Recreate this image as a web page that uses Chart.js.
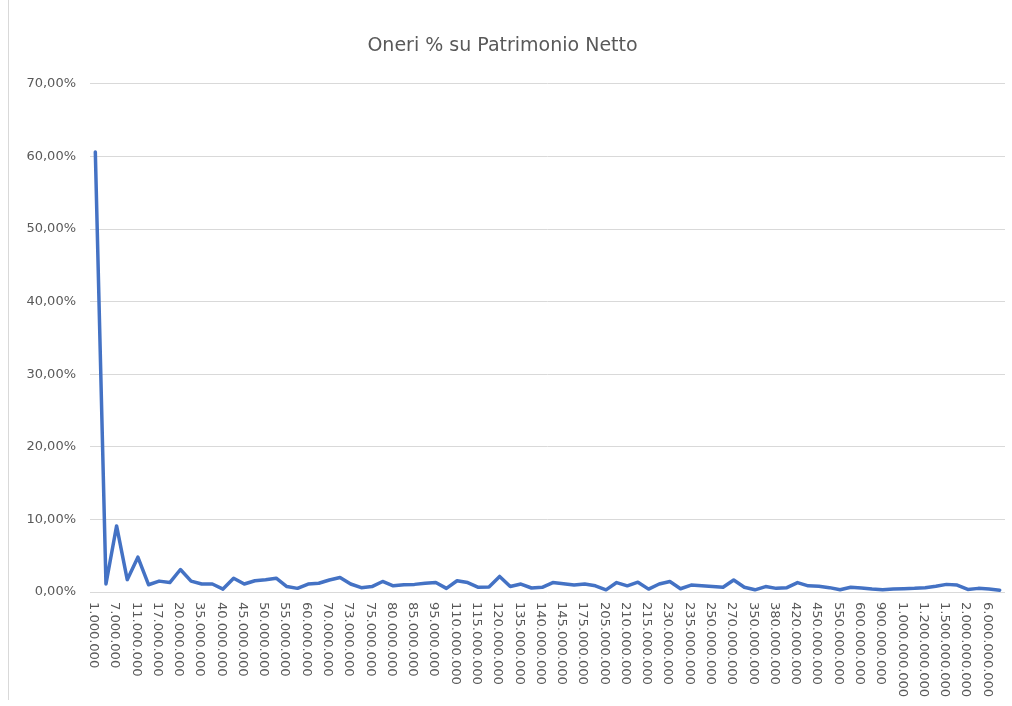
<!DOCTYPE html>
<html>
<head>
<meta charset="utf-8">
<script src="https://cdn.jsdelivr.net/npm/chart.js@4/dist/chart.umd.min.js"></script>
<style>
    html, body { margin: 0; padding: 0; background: #ffffff; }
    #wrap { position: relative; width: 1012px; height: 706px; }
    #frame {
        position: absolute; left: 8px; top: 0; width: 0; height: 700px;
        border-left: 1px solid #d9d9d9; pointer-events: none;
    }
</style>
</head>
<body>
<div id="wrap">
    <canvas id="costChart" width="1012" height="706"></canvas>
    <div id="frame"></div>
</div>
<script>
// categories (patrimonio netto), only every other one is printed on the axis
const categories = [
    "1.000.000", "5.000.000", "7.000.000", "10.000.000", "11.000.000", "15.000.000",
    "17.000.000", "18.000.000", "20.000.000", "30.000.000", "35.000.000", "38.000.000",
    "40.000.000", "42.000.000", "45.000.000", "48.000.000", "50.000.000", "52.000.000",
    "55.000.000", "58.000.000", "60.000.000", "65.000.000", "70.000.000", "72.000.000",
    "73.000.000", "74.000.000", "75.000.000", "78.000.000", "80.000.000", "82.000.000",
    "85.000.000", "90.000.000", "95.000.000", "100.000.000", "110.000.000", "112.000.000",
    "115.000.000", "118.000.000", "120.000.000", "130.000.000", "135.000.000", "138.000.000",
    "140.000.000", "142.000.000", "145.000.000", "150.000.000", "175.000.000", "200.000.000",
    "205.000.000", "208.000.000", "210.000.000", "212.000.000", "215.000.000", "220.000.000",
    "230.000.000", "232.000.000", "235.000.000", "240.000.000", "250.000.000", "260.000.000",
    "270.000.000", "300.000.000", "350.000.000", "370.000.000", "380.000.000", "400.000.000",
    "420.000.000", "430.000.000", "450.000.000", "500.000.000", "550.000.000", "580.000.000",
    "600.000.000", "800.000.000", "900.000.000", "950.000.000", "1.000.000.000", "1.100.000.000",
    "1.200.000.000", "1.300.000.000", "1.500.000.000", "1.800.000.000", "2.000.000.000", "3.000.000.000",
    "6.000.000.000", "10.000.000.000"
];

// oneri in % of patrimonio netto
const oneriPct = [
    60.6, 1.1, 9.1, 1.7, 4.8, 1.0, 1.5, 1.3, 3.1, 1.5,
    1.1, 1.1, 0.4, 1.9, 1.1, 1.55, 1.7, 1.9, 0.75, 0.5,
    1.1, 1.2, 1.65, 2.0, 1.1, 0.6, 0.75, 1.45, 0.85, 1.0,
    1.05, 1.2, 1.3, 0.5, 1.55, 1.3, 0.65, 0.7, 2.15, 0.75,
    1.1, 0.55, 0.65, 1.3, 1.15, 0.95, 1.1, 0.85, 0.3, 1.3,
    0.85, 1.35, 0.4, 1.1, 1.45, 0.45, 0.95, 0.85, 0.75, 0.65,
    1.65, 0.65, 0.3, 0.75, 0.5, 0.6, 1.3, 0.85, 0.8, 0.6,
    0.3, 0.65, 0.55, 0.4, 0.3, 0.4, 0.45, 0.5, 0.6, 0.8,
    1.05, 0.95, 0.35, 0.5, 0.4, 0.25
];

const yTicks = [0, 10, 20, 30, 40, 50, 60, 70];

const textColor = "#595959";
const gridColor = "#d9d9d9";
const labelFont = '13px "DejaVu Sans"';

// x labels read top-to-bottom like the original, so they are drawn here
const downLabels = {
    id: "downLabels",
    afterDraw(chart) {
        const sc = chart.scales.x;
        const ctx = chart.ctx;
        ctx.save();
        ctx.font = labelFont;
        ctx.fillStyle = textColor;
        ctx.textAlign = "left";
        ctx.textBaseline = "middle";
        for (let i = 0; i < categories.length; i += 2) {
            const x = sc.getPixelForValue(i);
            ctx.save();
            ctx.translate(x - 2, sc.top + 10);
            ctx.rotate(Math.PI / 2);
            ctx.fillText(categories[i], 0, 0);
            ctx.restore();
        }
        ctx.restore();
    },
};

const ctx = document.getElementById("costChart").getContext("2d");
new Chart(ctx, {
    type: "line",
    data: {
        labels: categories,
        datasets: [
            {
                label: "Oneri %",
                data: oneriPct,
                borderColor: "#4472c4",
                borderWidth: 3.5,
                pointRadius: 0,
                tension: 0,
                borderJoinStyle: "round",
                borderCapStyle: "round",
                fill: false,
            },
        ],
    },
    options: {
        responsive: false,
        animation: false,
        layout: {
            padding: { left: 0, right: 7, top: 0, bottom: 0 },
        },
        plugins: {
            legend: { display: false },
            tooltip: { enabled: false },
            title: {
                display: true,
                text: "Oneri % su Patrimonio Netto",
                color: textColor,
                font: { family: "DejaVu Sans", size: 19, weight: "normal" },
                padding: { top: 35, bottom: 26 },
            },
        },
        scales: {
            x: {
                type: "category",
                offset: true,
                grid: { display: false },
                border: { display: false },
                ticks: {
                    autoSkip: false,
                    minRotation: 90,
                    maxRotation: 90,
                    color: "rgba(0,0,0,0)",
                    font: { family: "DejaVu Sans", size: 1 },
                    callback: function (value, index) {
                        return index % 2 === 0 ? categories[index] : "";
                    },
                },
                afterFit: function (scale) {
                    scale.height = 114;
                    scale.paddingLeft = 0;
                    scale.paddingRight = 0;
                },
            },
            y: {
                min: yTicks[0],
                max: yTicks[yTicks.length - 1],
                grid: {
                    color: gridColor,
                    lineWidth: 1,
                    drawTicks: false,
                },
                border: { display: false },
                afterBuildTicks: function (scale) {
                    scale.ticks = yTicks.map(function (v) { return { value: v }; });
                },
                ticks: {
                    color: textColor,
                    padding: 14,
                    font: { family: "DejaVu Sans", size: 13 },
                    callback: function (value) {
                        return value.toFixed(2).replace(".", ",") + "%";
                    },
                },
                afterFit: function (scale) {
                    scale.width = 90;
                },
            },
        },
    },
    plugins: [downLabels],
});
</script>
</body>
</html>
